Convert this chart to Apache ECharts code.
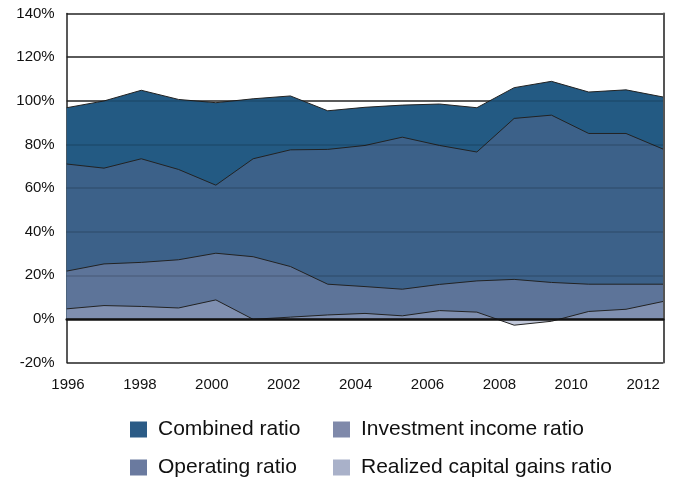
<!DOCTYPE html>
<html>
<head>
<meta charset="utf-8">
<script src="https://cdn.jsdelivr.net/npm/echarts@6/dist/echarts.min.js"></script>
<style>html,body{margin:0;padding:0;background:#fff}#c{width:684px;height:479px}</style>
</head>
<body>
<div id="c"></div>
<script>
var years = ['1996','1997','1998','1999','2000','2001','2002','2003','2004','2005','2006','2007','2008','2009','2010','2011','2012'];
var yearTicks = [1996,1998,2000,2002,2004,2006,2008,2010,2012];
var combinedRatio = [96.8,99.9,104.8,100.6,99.1,100.9,102.2,95.4,97.0,98.0,98.5,96.8,106.0,108.9,104.0,105.0,101.7];
var operatingRatio = [71.0,69.1,73.4,68.5,61.3,73.4,77.5,77.7,79.5,83.3,79.5,76.5,91.9,93.4,85.0,85.0,77.8];
var investmentIncomeRatio = [21.9,25.2,25.9,27.1,30.1,28.5,24.0,15.9,14.8,13.6,15.8,17.4,18.1,16.7,15.9,15.9,15.9];
var realizedGainsRatio = [4.6,6.1,5.7,5.0,8.7,-0.2,0.8,1.8,2.5,1.4,3.8,3.1,-2.9,-1.1,3.4,4.4,8.0];

var FONT = '"Liberation Sans", Arial, sans-serif';
var chart = echarts.init(document.getElementById('c'), null, {renderer:'canvas'});

function areaSeries(name, data, fill, z) {
  return {
    name: name, type: 'line', data: data, xAxisIndex: 0, yAxisIndex: 0,
    symbol: 'none', z: z,
    lineStyle: {color: '#222', width: 1},
    itemStyle: {color: fill},
    areaStyle: {color: fill, opacity: 1, origin: 0},
    emphasis: {disabled: true}
  };
}

var legendText = {fontFamily: FONT, fontSize: 21, color: '#111', lineHeight: 20, padding: [0,0,0,6]};

chart.setOption({
  animation: false,
  grid: {left: 66.7, right: 20.7, top: 13.5, bottom: 116.5},
  xAxis: [
    {type: 'category', data: years, boundaryGap: false, z: 10,
     axisLine: {show: true, onZero: true, lineStyle: {color: '#111', width: 2.5}},
     axisTick: {show: false}, axisLabel: {show: false}, splitLine: {show: false}},
    {type: 'value', min: 1995.964, max: 2012.56, position: 'bottom',
     axisLine: {show: false, onZero: false}, axisTick: {show: false}, splitLine: {show: false},
     axisLabel: {show: true, customValues: yearTicks, margin: 15, fontFamily: FONT, fontSize: 15, color: '#111',
       formatter: function (v) { return String(Math.round(v)); }}}
  ],
  yAxis: [
    {type: 'value', min: -20, max: 140, interval: 20,
     axisLine: {show: true, lineStyle: {color: '#222', width: 1.5}},
     axisTick: {show: false},
     axisLabel: {formatter: '{value}%', margin: 12, fontFamily: FONT, fontSize: 15, color: '#111'},
     splitLine: {show: true, lineStyle: {color: '#333', width: 1.5}}},
    {type: 'value', min: -20, max: 140, interval: 20, position: 'right', z: 10,
     axisLine: {show: true, lineStyle: {color: '#555', width: 2}},
     axisTick: {show: false}, axisLabel: {show: false},
     splitLine: {show: true, lineStyle: {color: 'rgba(0,0,0,0.16)', width: 1.5}}}
  ],
  legend: [
    {orient: 'vertical', left: 130, top: 419, width: 200, height: 120, padding: 0,
     itemWidth: 17, itemHeight: 16, itemGap: 17, icon: 'rect',
     textStyle: legendText, selectedMode: false,
     data: [{name: 'Combined ratio', itemStyle: {color: '#2b5b86', borderWidth: 0}},
            {name: 'Operating ratio', itemStyle: {color: '#6a7a9f', borderWidth: 0}}]},
    {orient: 'vertical', left: 333, top: 419, width: 340, height: 120, padding: 0,
     itemWidth: 17, itemHeight: 16, itemGap: 17, icon: 'rect',
     textStyle: legendText, selectedMode: false,
     data: [{name: 'Investment income ratio', itemStyle: {color: '#7f89aa', borderWidth: 0}},
            {name: 'Realized capital gains ratio', itemStyle: {color: '#a9b1c9', borderWidth: 0}}]}
  ],
  series: [
    areaSeries('Combined ratio', combinedRatio, '#235a83', 2),
    areaSeries('Operating ratio', operatingRatio, '#3c6189', 3),
    areaSeries('Investment income ratio', investmentIncomeRatio, '#5d7499', 4),
    areaSeries('Realized capital gains ratio', realizedGainsRatio, 'rgba(150,162,192,0.6)', 5)
  ]
});
</script>
</body>
</html>
